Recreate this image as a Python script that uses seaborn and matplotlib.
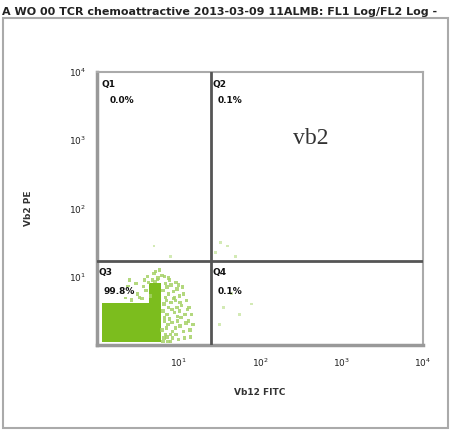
import numpy as np
import pandas as pd
import matplotlib
matplotlib.use("Agg")
import matplotlib.pyplot as plt
import seaborn as sns
from matplotlib.patches import Rectangle

sns.set_style("white")

title_text = "A WO 00 TCR chemoattractive 2013-03-09 11ALMB: FL1 Log/FL2 Log -"
x_label = "Vb12 FITC"
y_label = "Vb2 PE"
tick_values = [1e1, 1e2, 1e3, 1e4]
tick_labels = ["$10^{1}$", "$10^{2}$", "$10^{3}$", "$10^{4}$"]
quad_names = ["Q1", "Q2", "Q3", "Q4"]
quad_pcts = ["0.0%", "0.1%", "99.8%", "0.1%"]
gate_x = 25.0
gate_y = 17.0
annotation = "vb2"

# dense population outline (log10 units)
dense_lx = [0.06, 0.79, 0.79, 0.64, 0.64, 0.06]
dense_ly = [0.04, 0.04, 0.91, 0.91, 0.62, 0.62]

# scattered events near the dense population (log10 units)
events_lx = [0.82, 0.85, 0.83, 0.88, 0.84, 0.86, 0.90, 0.92, 0.95, 0.91, 0.94, 0.97,
             1.00, 1.02, 0.99, 1.04, 1.01, 1.06, 1.08, 1.10, 1.12, 1.15, 1.05, 0.87,
             0.81, 0.96, 1.13, 1.18, 0.89, 0.93, 1.03, 0.98,
             0.81, 0.84, 0.87, 0.80, 0.83, 0.86, 0.89, 0.82, 0.85, 0.88, 0.81, 0.84,
             0.90, 0.93, 0.96, 0.99, 0.92, 0.95, 0.98, 1.01, 0.91, 0.97, 1.07, 1.09,
             1.11, 1.14, 1.16, 1.06, 1.02, 1.00, 0.94, 0.88, 0.83, 0.86,
             0.35, 0.42, 0.50, 0.55, 0.60, 0.48, 0.58, 0.38, 0.62, 0.70, 0.75, 0.68, 0.80,
             0.45, 0.52, 0.57, 0.63, 0.66, 0.72, 0.77, 0.74, 0.71, 0.30, 0.40]
events_ly = [0.10, 0.25, 0.40, 0.55, 0.70, 0.85, 0.15, 0.33, 0.48, 0.62, 0.78, 0.92,
             0.08, 0.28, 0.42, 0.58, 0.72, 0.20, 0.45, 0.65, 0.35, 0.12, 0.85, 0.05,
             0.50, 0.65, 0.55, 0.30, 0.95, 0.20, 0.40, 0.55,
             0.05, 0.15, 0.30, 0.22, 0.35, 0.45, 0.38, 0.60, 0.65, 0.75, 0.80, 0.90,
             0.05, 0.10, 0.25, 0.35, 0.52, 0.70, 0.82, 0.50, 0.88, 0.15, 0.10, 0.32,
             0.52, 0.22, 0.45, 0.75, 0.62, 0.88, 0.68, 0.98, 1.00, 0.12,
             0.70, 0.66, 0.75, 0.68, 0.80, 0.90, 0.95, 0.85, 1.00, 1.05, 0.98, 0.95, 1.02,
             0.78, 0.70, 0.86, 0.92, 0.72, 1.08, 1.10, 0.96, 0.93, 0.75, 0.95]

# rare events in the other quadrants (log10 units)
rare_lx = [1.55, 1.65, 1.50, 1.75, 1.45, 1.60, 1.70, 1.52, 1.90, 1.40, 0.90, 0.70]
rare_ly = [0.55, 0.75, 0.30, 0.45, 1.35, 1.45, 1.30, 1.50, 0.60, 1.10, 1.30, 1.45]

W, H = 452, 433
fig = plt.figure(figsize=(W / 100, H / 100), dpi=100)
fig.patch.set_facecolor("white")

# outer frame
fig.patches.append(Rectangle((3 / W, 1 - 428 / H), 445 / W, 410 / H, transform=fig.transFigure,
                             fill=False, edgecolor="#aaaaaa", linewidth=1.5))
fig.text(2 / W, 1 - 12 / H, title_text, fontsize=8, fontweight="bold", ha="left", va="center",
         color="#222222")

ax = fig.add_axes([97 / W, 1 - 345 / H, 326 / W, 273 / H])
ax.set_xscale("log")
ax.set_yscale("log")
ax.set_xlim(1, 1e4)
ax.set_ylim(1, 1e4)

green = "#7cbd1e"
ax.fill([10 ** v for v in dense_lx], [10 ** v for v in dense_ly], color=green, lw=0, zorder=2)

ev = pd.DataFrame({"x": [10 ** v for v in events_lx], "y": [10 ** v for v in events_ly]})
sns.scatterplot(data=ev, x="x", y="y", ax=ax, marker="s", s=6, color="#a6d267",
                edgecolor="none", alpha=0.85, zorder=3, legend=False)
rare = pd.DataFrame({"x": [10 ** v for v in rare_lx], "y": [10 ** v for v in rare_ly]})
sns.scatterplot(data=rare, x="x", y="y", ax=ax, marker="s", s=4, color="#cfe8ad",
                edgecolor="none", alpha=0.9, zorder=3, legend=False)

ax.axvline(gate_x, color="#555555", lw=2, zorder=4)
ax.axhline(gate_y, color="#555555", lw=2, zorder=4)

for s in ["top", "right"]:
    ax.spines[s].set_color("#aaaaaa")
    ax.spines[s].set_linewidth(1.5)
for s in ["left", "bottom"]:
    ax.spines[s].set_color("#999999")
    ax.spines[s].set_linewidth(2.5)

ax.set_xticks(tick_values)
ax.set_xticklabels(tick_labels)
ax.set_yticks(tick_values)
ax.set_yticklabels(tick_labels)
ax.tick_params(axis="both", which="major", direction="out", length=6, width=1.2, color="#555555",
               labelsize=6.5, labelcolor="#222222", pad=2)
ax.tick_params(axis="both", which="minor", direction="out", length=3, width=1, color="#777777")
ax.xaxis.set_minor_locator(matplotlib.ticker.LogLocator(base=10, subs=np.arange(2, 10)))
ax.yaxis.set_minor_locator(matplotlib.ticker.LogLocator(base=10, subs=np.arange(2, 10)))
ax.xaxis.set_minor_formatter(matplotlib.ticker.NullFormatter())
ax.yaxis.set_minor_formatter(matplotlib.ticker.NullFormatter())

ax.set_xlabel(x_label, fontsize=6.5, fontweight="bold", color="#333333", labelpad=14)
ax.set_ylabel(y_label, fontsize=6.5, fontweight="bold", color="#333333", labelpad=26)

# quadrant labels (axes fraction positions)
name_pos = [(0.015, 0.955), (0.355, 0.955), (0.005, 0.265), (0.355, 0.265)]
pct_pos = [(0.04, 0.895), (0.37, 0.895), (0.02, 0.195), (0.37, 0.195)]
for n, p, npos, ppos in zip(quad_names, quad_pcts, name_pos, pct_pos):
    ax.text(*npos, n, transform=ax.transAxes, fontsize=6.5, fontweight="bold", ha="left",
            va="center", color="#111111", zorder=5)
    ax.text(*ppos, p, transform=ax.transAxes, fontsize=6.5, fontweight="bold", ha="left",
            va="center", color="#111111", zorder=5,
            bbox=dict(facecolor="white", edgecolor="none", pad=0.5) if n == "Q3" else None)

ax.text(0.655, 0.755, annotation, transform=ax.transAxes, fontsize=17, family="Liberation Serif",
        ha="center", va="center", color="#333333", zorder=5)

fig.savefig("out.png", dpi=100, facecolor="white")
